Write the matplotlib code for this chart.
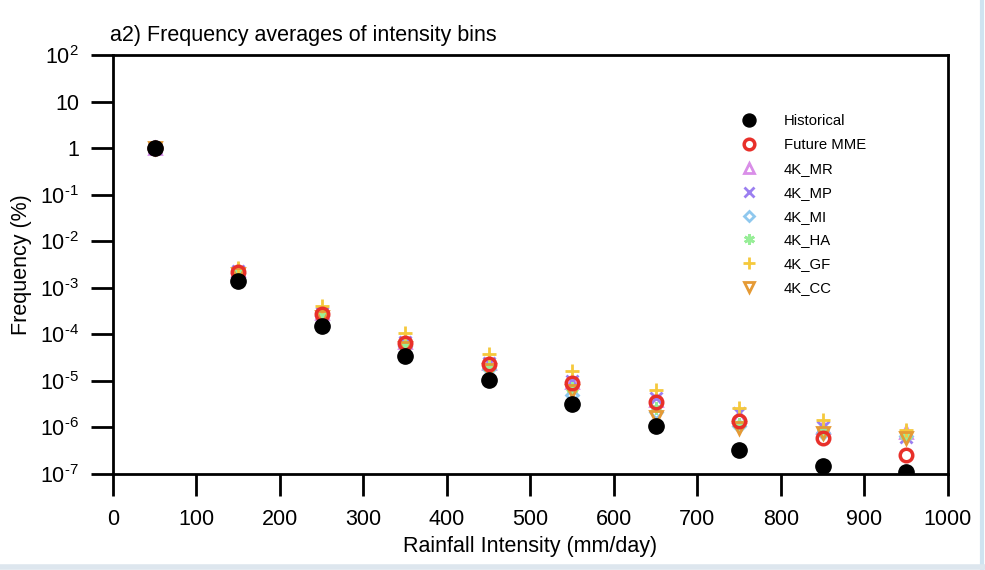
import matplotlib
matplotlib.use("Agg")
import matplotlib.pyplot as plt
from matplotlib.ticker import FixedLocator, FixedFormatter
from matplotlib.lines import Line2D

plt.rcParams['font.family'] = ['Liberation Sans', 'DejaVu Sans']
plt.rcParams['mathtext.fontset'] = 'custom'
plt.rcParams['mathtext.rm'] = 'Liberation Sans'
plt.rcParams['mathtext.it'] = 'Liberation Sans'

x = [50, 150, 250, 350, 450, 550, 650, 750, 850, 950]
hist = [1.0, 1.4e-3, 1.5e-4, 3.4e-5, 1.05e-5, 3.2e-6, 1.1e-6, 3.3e-7, 1.45e-7, 1.1e-7]
mme = [1.0, 2.2e-3, 2.8e-4, 6.6e-5, 2.3e-5, 9.2e-6, 3.5e-6, 1.4e-6, 5.9e-7, 2.6e-7]
mr = [1.0, 2.4e-3, 2.9e-4, 6.8e-5, 2.4e-5, 9.5e-6, 3.8e-6, 1.8e-6, 1.0e-6, 8.0e-7]
mp = [1.0, 2.3e-3, 2.9e-4, 6.9e-5, 2.4e-5, 1.0e-5, 4.2e-6, 2.0e-6, 1.0e-6, 6.3e-7]
mi = [1.0, 2.1e-3, 2.5e-4, 5.5e-5, 1.8e-5, 5.0e-6, 2.1e-6, 1.1e-6, 7.5e-7, 6.5e-7]
ha = [1.0, 2.2e-3, 2.7e-4, 6.0e-5, 2.0e-5, 7.0e-6, 2.6e-6, 1.2e-6, 8.0e-7, 7.0e-7]
gf = [1.0, 2.6e-3, 4.0e-4, 1.05e-4, 3.8e-5, 1.65e-5, 6.4e-6, 2.6e-6, 1.45e-6, 9.0e-7]
cc = [1.0, 2.0e-3, 2.4e-4, 5.2e-5, 1.7e-5, 6.0e-6, 1.7e-6, 9.5e-7, 7.5e-7, 6.0e-7]

ytick_vals = [1e2, 1e1, 1e0, 1e-1, 1e-2, 1e-3, 1e-4, 1e-5, 1e-6, 1e-7]
ytick_labels = ['$10^{2}$', '10', '1', '$10^{\\text{-}1}$', '$10^{\\text{-}2}$', '$10^{\\text{-}3}$',
                '$10^{\\text{-}4}$', '$10^{\\text{-}5}$', '$10^{\\text{-}6}$', '$10^{\\text{-}7}$']
xtick_vals = [0, 100, 200, 300, 400, 500, 600, 700, 800, 900, 1000]

fig = plt.figure(figsize=(9.85, 5.70), dpi=100)
ax = fig.add_axes([0.1147, 0.1684, 0.8477, 0.7351])

models = [
    ('4K_MR', mr, '^', '#d98ee8', 'none', 8),
    ('4K_MP', mp, 'x', '#9b7ff0', None, 8),
    ('4K_MI', mi, 'D', '#8fc8ee', 'none', 6),
    ('4K_HA', ha, (6, 2, 0), '#98ee98', None, 9),
    ('4K_GF', gf, '+', '#f5c93c', None, 10),
    ('4K_CC', cc, 'v', '#e59a35', 'none', 8),
]

handles = {}
for name, vals, mk, col, fc, ms in models:
    kw = dict(linestyle='none', marker=mk, color=col, markersize=ms, markeredgewidth=2)
    if fc == 'none':
        kw['markerfacecolor'] = 'none'
    h, = ax.plot(x, vals, label=name, **kw)
    handles[name] = h

hm, = ax.plot(x, mme, linestyle='none', marker='o', markersize=9, markerfacecolor='none',
              markeredgecolor='#e8302a', markeredgewidth=2.5, label='Future MME')
hh, = ax.plot(x, hist, linestyle='none', marker='o', markersize=11, color='black',
              label='Historical')

ax.set_yscale('log')
ax.set_xlim(0, 1000)
ax.set_ylim(1e-7, 1e2)
ax.yaxis.set_major_locator(FixedLocator(ytick_vals))
ax.yaxis.set_major_formatter(FixedFormatter(ytick_labels))
ax.yaxis.set_minor_locator(FixedLocator([]))
ax.set_xticks(xtick_vals)
ax.set_xticklabels([str(v) for v in xtick_vals])

ax.tick_params(axis='both', direction='out', length=15.5, width=2, labelsize=15.5)
ax.tick_params(axis='x', pad=10)
ax.tick_params(axis='y', pad=9)
for s in ax.spines.values():
    s.set_linewidth(2)

ax.set_xlabel('Rainfall Intensity (mm/day)', fontsize=15.5, labelpad=4)
ax.set_ylabel('Frequency (%)', fontsize=15.5, labelpad=6)
ax.set_title('a2) Frequency averages of intensity bins', fontsize=15.5, loc='left', x=-0.004, pad=10)

order = [hh, hm] + [handles[n] for n in ['4K_MR', '4K_MP', '4K_MI', '4K_HA', '4K_GF', '4K_CC']]
leg = ax.legend(handles=order, loc='upper left', bbox_to_anchor=(0.735, 0.89), frameon=False,
                fontsize=10.7, labelspacing=0.66, handlelength=1.2, handletextpad=1.75,
                markerscale=0.85)

# light screenshot frame
fig.add_artist(Line2D([0.997, 0.997], [0.0, 1.0], transform=fig.transFigure,
                      color='#cfe3f0', linewidth=3))
fig.add_artist(Line2D([0.0, 1.0], [0.005, 0.005], transform=fig.transFigure,
                      color='#dde6ee', linewidth=4))

fig.savefig('out.png', dpi=100)
